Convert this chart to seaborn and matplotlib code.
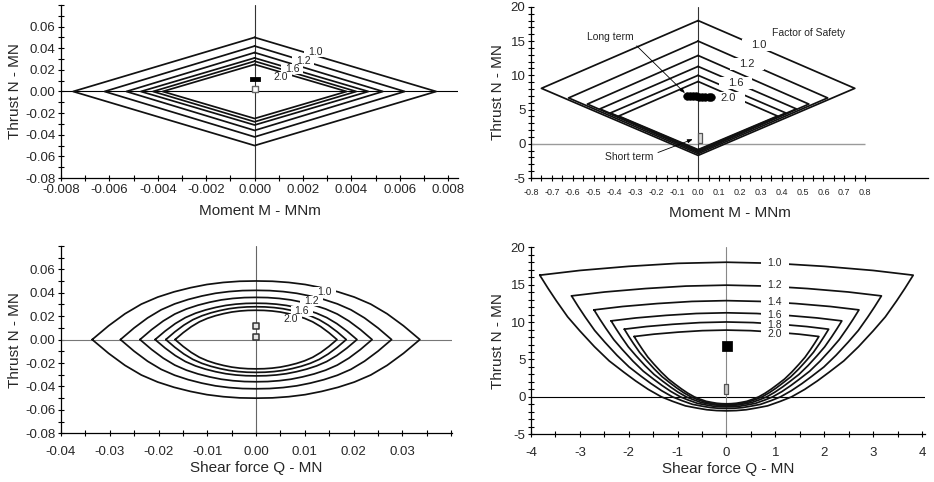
import numpy as np
import pandas as pd
import matplotlib
matplotlib.use("Agg")
import matplotlib.pyplot as plt
from matplotlib.patches import Rectangle
from matplotlib.transforms import IdentityTransform
from matplotlib.ticker import FixedLocator, FormatStrFormatter
import seaborn as sns

# factor of safety of each curve (outer -> inner)
FOS = [1.0, 1.2, 1.4, 1.6, 1.8, 2.0]
FOS_TEXT = ["1.0", "1.2", "1.4", "1.6", "1.8", "2.0"]

# --- top left: M-N diamonds (vertex values per curve)
tl_m_vertex = [0.0075, 0.0062, 0.0053, 0.0047, 0.0042, 0.0038]
tl_n_vertex = [0.050, 0.042, 0.036, 0.031, 0.028, 0.025]
tl_label_idx = [0, 1, 3, 5]
tl_label_m = [0.0025, 0.0020, 0.00155, 0.00107]
tl_label_n = [0.0364, 0.0280, 0.0208, 0.0135]
tl_long_m, tl_long_n = [0.0], [0.012]
tl_short_m, tl_short_n = [0.0], [0.002]

# --- top right: M-N diamonds
tr_m_side = [0.75, 0.62, 0.53, 0.47, 0.42, 0.38]
tr_n_side = [8.1, 6.7, 5.8, 5.1, 4.5, 4.05]
tr_n_top = [18.0, 15.0, 12.9, 11.3, 10.0, 9.1]
tr_n_bot = [-1.7, -1.45, -1.25, -1.1, -0.95, -0.85]
tr_label_idx = [0, 1, 3, 5]
tr_label_m = [0.29, 0.235, 0.18, 0.145]
tr_label_n = [14.45, 11.67, 8.85, 6.65]
tr_long_m = [-0.055, -0.04, -0.025, -0.01, 0.005, 0.02, 0.035, 0.05, 0.062]
tr_long_n = [7.0, 6.97, 6.94, 6.92, 6.9, 6.88, 6.86, 6.85, 6.85]
tr_short_m, tr_short_n = [0.01], [0.9]

# --- bottom left: Q-N lens (outer shape, normalised) and extents per curve
bl_shape_u = [0.0, 0.1, 0.2, 0.3, 0.4, 0.5, 0.6, 0.7, 0.8, 0.9, 1.0]
bl_shape_v = [1.0, 0.995, 0.975, 0.94, 0.885, 0.815, 0.725, 0.605, 0.44, 0.235, 0.0]
bl_q_extent = [0.0336, 0.0278, 0.0238, 0.0207, 0.0185, 0.0166]
bl_n_extent = [0.050, 0.042, 0.036, 0.031, 0.028, 0.025]
bl_label_idx = [0, 1, 3, 5]
bl_label_q = [0.0140, 0.0114, 0.0094, 0.0072]
bl_label_n = [0.041, 0.033, 0.0246, 0.0175]
bl_mark_q, bl_mark_n = [0.0, 0.0], [0.012, 0.002]

# --- bottom right: Q-N curves (outer curve, left half) and corners per curve
br_top_q = [-3.82, -3.0, -2.0, -1.0, 0.0]
br_top_n = [16.27, 16.9, 17.45, 17.85, 18.0]
br_low_q = [-3.82, -3.65, -3.48, -3.25, -3.0, -2.7, -2.4, -2.1, -1.86, -1.6,
            -1.33, -1.1, -0.84, -0.6, -0.4, -0.2, 0.0]
br_low_n = [16.27, 14.5, 12.83, 10.7, 8.82, 6.7, 4.81, 3.3, 2.14, 1.0,
            0.0, -0.6, -1.2, -1.5, -1.72, -1.83, -1.87]
br_q_corner = [3.82, 3.17, 2.71, 2.36, 2.09, 1.89]
br_n_corner = [16.27, 13.5, 11.63, 10.16, 9.05, 8.07]
br_label_q = [0.99, 0.99, 0.99, 0.99, 0.99, 0.99]
br_label_n = [17.9, 14.9, 12.7, 10.96, 9.6, 8.4]
br_long_q, br_long_n = [0.02], [6.75]
br_short_q, br_short_n = [0.0], [1.05]

TICK_FS = 9.5
LABEL_FS = 11
LINE_KW = dict(color="#111111", lw=1.25)
WIDE = [(-1, -0.4), (1, -0.4), (1, 0.4), (-1, 0.4), (-1, -0.4)]
TALL = [(-0.45, -1), (0.45, -1), (0.45, 1), (-0.45, 1), (-0.45, -1)]

gap_texts = []  # (axes, text, x padding px, y padding px)


def ticks(start, stop, step):
    # rounded so that no "-0.0" shows up
    return np.round(np.arange(start, stop + step / 2, step), 4) + 0.0


def curves_frame(xs, ys):
    rows = []
    for i, (x, y) in enumerate(zip(xs, ys)):
        rows.append(pd.DataFrame({"x": x, "y": y, "curve": i, "step": np.arange(len(x))}))
    return pd.concat(rows, ignore_index=True)


def draw_curves(ax, xs, ys):
    df = curves_frame(xs, ys)
    sns.lineplot(data=df, x="x", y="y", units="curve", estimator=None, sort=False,
                 ax=ax, legend=False, **LINE_KW)


def fos_labels(ax, xs, ys, idx, fs, padx, pady=1):
    for x, y, i in zip(xs, ys, idx):
        t = ax.text(x, y, FOS_TEXT[i], ha="center", va="center", fontsize=fs, zorder=6)
        gap_texts.append((ax, t, padx, pady))


def cut_gaps(fig):
    # white boxes behind the labels break the curves, like contour labels
    fig.canvas.draw()
    for ax, t, padx, pady in gap_texts:
        bb = t.get_window_extent()
        ax.add_patch(Rectangle((bb.x0 - padx, bb.y0 - pady), bb.width + 2 * padx,
                               bb.height + 2 * pady, transform=IdentityTransform(),
                               fc="white", ec="none", zorder=4, clip_on=False))


def style_axis(ax, xlim, ylim, xmajor, xminor, ymajor, yminor, xfmt, yfmt, xpad=2):
    ax.set_xlim(*xlim)
    ax.set_ylim(*ylim)
    ax.xaxis.set_major_locator(FixedLocator(xmajor))
    ax.xaxis.set_minor_locator(FixedLocator(xminor))
    ax.yaxis.set_major_locator(FixedLocator(ymajor))
    ax.yaxis.set_minor_locator(FixedLocator(yminor))
    ax.xaxis.set_major_formatter(FormatStrFormatter(xfmt))
    ax.yaxis.set_major_formatter(FormatStrFormatter(yfmt))
    ax.tick_params(which="both", direction="inout", length=4, width=0.8, color="black",
                   labelsize=TICK_FS, pad=2)
    ax.tick_params(axis="x", pad=xpad)
    sns.despine(ax=ax)
    for s in ("left", "bottom"):
        ax.spines[s].set_color("black")
        ax.spines[s].set_linewidth(0.9)
    ax.grid(False)


sns.set_style("ticks")
plt.rcParams["font.family"] = ["Liberation Sans", "DejaVu Sans"]

fig = plt.figure(figsize=(9.34, 4.82), dpi=100)
ax_tl = fig.add_axes([0.0653, 0.6307, 0.425, 0.359])
ax_tr = fig.add_axes([0.5685, 0.6307, 0.425, 0.355])
ax_bl = fig.add_axes([0.0653, 0.101, 0.4187, 0.389])
ax_br = fig.add_axes([0.5685, 0.099, 0.4218, 0.388])

# ---------------- top left
ax = ax_tl
ax.axhline(0, color="black", lw=0.8, zorder=1)
ax.axvline(0, color="#333333", lw=0.8, zorder=1)
xs, ys = [], []
for m, n in zip(tl_m_vertex, tl_n_vertex):
    xs.append([0, m, 0, -m, 0])
    ys.append([n, 0, -n, 0, n])
draw_curves(ax, xs, ys)
fos_labels(ax, tl_label_m, tl_label_n, tl_label_idx, 7.5, 4, 0)
sns.scatterplot(x=tl_long_m, y=tl_long_n, marker=WIDE, s=55, color="black",
                edgecolor="black", ax=ax, zorder=7)
sns.scatterplot(x=tl_short_m, y=tl_short_n, marker="s", s=16, facecolor="white",
                edgecolor="#666666", linewidth=1, ax=ax, zorder=7)
style_axis(ax, (-0.008, 0.0084), (-0.08, 0.08),
           ticks(-0.008, 0.008, 0.002), ticks(-0.008, 0.008, 0.001),
           ticks(-0.08, 0.06, 0.02), ticks(-0.08, 0.08, 0.01), "%.3f", "%.2f")
ax.set_xlabel("Moment M - MNm", fontsize=LABEL_FS, labelpad=6)
ax.set_ylabel("Thrust N - MN", fontsize=LABEL_FS, labelpad=2)

# ---------------- top right
ax = ax_tr
tr_xticks = ticks(-0.8, 0.8, 0.1)
ax.hlines(0, tr_xticks[0], tr_xticks[-1], color="#9a9a9a", lw=1.0, zorder=1)
ax.axvline(0, color="#333333", lw=0.8, zorder=1)
xs, ys = [], []
for m, nt, ns, nb in zip(tr_m_side, tr_n_top, tr_n_side, tr_n_bot):
    xs.append([0, m, 0, -m, 0])
    ys.append([nt, ns, nb, ns, nt])
draw_curves(ax, xs, ys)
fos_labels(ax, tr_label_m, tr_label_n, tr_label_idx, 8, 9, 1)
ax.text(0.53, 16.2, "Factor of Safety", ha="center", va="center", fontsize=7.5, zorder=6)
sns.scatterplot(x=tr_long_m, y=tr_long_n, marker="o", s=30, color="black",
                edgecolor="black", ax=ax, zorder=7)
sns.scatterplot(x=tr_short_m, y=tr_short_n, marker=TALL, s=45, facecolor="#dddddd",
                edgecolor="#555555", linewidth=0.9, ax=ax, zorder=7)
ax.annotate("Long term", xy=(-0.063, 7.4), xytext=(-0.42, 15.66), fontsize=7.5,
            ha="center", va="center",
            arrowprops=dict(arrowstyle="-|>,head_length=0.4,head_width=0.15", lw=0.6,
                            color="black", relpos=(0.95, 0.1), shrinkA=1, shrinkB=0))
ax.annotate("Short term", xy=(-0.026, 0.66), xytext=(-0.33, -1.9), fontsize=7.5,
            ha="center", va="center",
            arrowprops=dict(arrowstyle="-|>,head_length=0.4,head_width=0.15", lw=0.6,
                            color="black", relpos=(1.0, 0.75), shrinkA=1, shrinkB=0))
style_axis(ax, (-0.8, 1.1), (-5, 20), tr_xticks, ticks(-0.8, 0.8, 0.05),
           ticks(-5, 20, 5), ticks(-5, 20, 1), "%.1f", "%d", xpad=5)
ax.tick_params(axis="x", labelsize=6.5)
ax.set_xlabel("Moment M - MNm", fontsize=LABEL_FS, labelpad=7)
ax.set_ylabel("Thrust N - MN", fontsize=LABEL_FS, labelpad=4)

# ---------------- bottom left
ax = ax_bl
ax.axhline(0, color="#777777", lw=0.8, zorder=1)
ax.axvline(0, color="#666666", lw=0.8, zorder=1)
u = np.array(bl_shape_u)
v = np.array(bl_shape_v)
half_x = np.concatenate([-u[::-1], u[1:]])
half_y = np.concatenate([v[::-1], v[1:]])
xs, ys = [], []
for a, b in zip(bl_q_extent, bl_n_extent):
    xs.append(np.concatenate([half_x, half_x[::-1]]) * a)
    ys.append(np.concatenate([half_y, -half_y[::-1]]) * b)
draw_curves(ax, xs, ys)
fos_labels(ax, bl_label_q, bl_label_n, bl_label_idx, 7.5, 4, 0)
sns.scatterplot(x=bl_mark_q, y=bl_mark_n, marker="s", s=18, facecolor="#e6e6e6",
                edgecolor="#333333", linewidth=1.1, ax=ax, zorder=7)
style_axis(ax, (-0.04, 0.0402), (-0.08, 0.08),
           ticks(-0.04, 0.03, 0.01), ticks(-0.04, 0.04, 0.005),
           ticks(-0.08, 0.06, 0.02), ticks(-0.08, 0.08, 0.01), "%.2f", "%.2f", xpad=7)
ax.set_xlabel("Shear force Q - MN", fontsize=LABEL_FS, labelpad=2)
ax.set_ylabel("Thrust N - MN", fontsize=LABEL_FS, labelpad=2)

# ---------------- bottom right
ax = ax_br
ax.axhline(0, color="black", lw=0.8, zorder=1)
ax.axvline(0, color="#888888", lw=0.8, zorder=1)
tq, tn = np.array(br_top_q), np.array(br_top_n)
lq, ln = np.array(br_low_q), np.array(br_low_n)
shape_q = np.concatenate([tq, -tq[::-1][1:], -lq[1:], lq[::-1][1:]])
shape_n = np.concatenate([tn, tn[::-1][1:], ln[1:], ln[::-1][1:]])
xs, ys = [], []
for qc, nc in zip(br_q_corner, br_n_corner):
    xs.append(shape_q * qc / br_q_corner[0])
    ys.append(shape_n * nc / br_n_corner[0])
draw_curves(ax, xs, ys)
fos_labels(ax, br_label_q, br_label_n, range(6), 7.5, 7, 0)
sns.scatterplot(x=br_long_q, y=br_long_n, marker="s", s=45, color="black",
                edgecolor="black", ax=ax, zorder=7)
sns.scatterplot(x=br_short_q, y=br_short_n, marker=TALL, s=55, facecolor="#c8c8c8",
                edgecolor="#555555", linewidth=0.9, ax=ax, zorder=7)
style_axis(ax, (-4, 4.06), (-5, 20), ticks(-4, 4, 1), ticks(-4, 4, 0.5),
           ticks(-5, 20, 5), ticks(-5, 20, 1), "%d", "%d", xpad=7)
ax.set_xlabel("Shear force Q - MN", fontsize=LABEL_FS, labelpad=2)
ax.set_ylabel("Thrust N - MN", fontsize=LABEL_FS, labelpad=4)

cut_gaps(fig)
fig.savefig("out.png", dpi=100)
